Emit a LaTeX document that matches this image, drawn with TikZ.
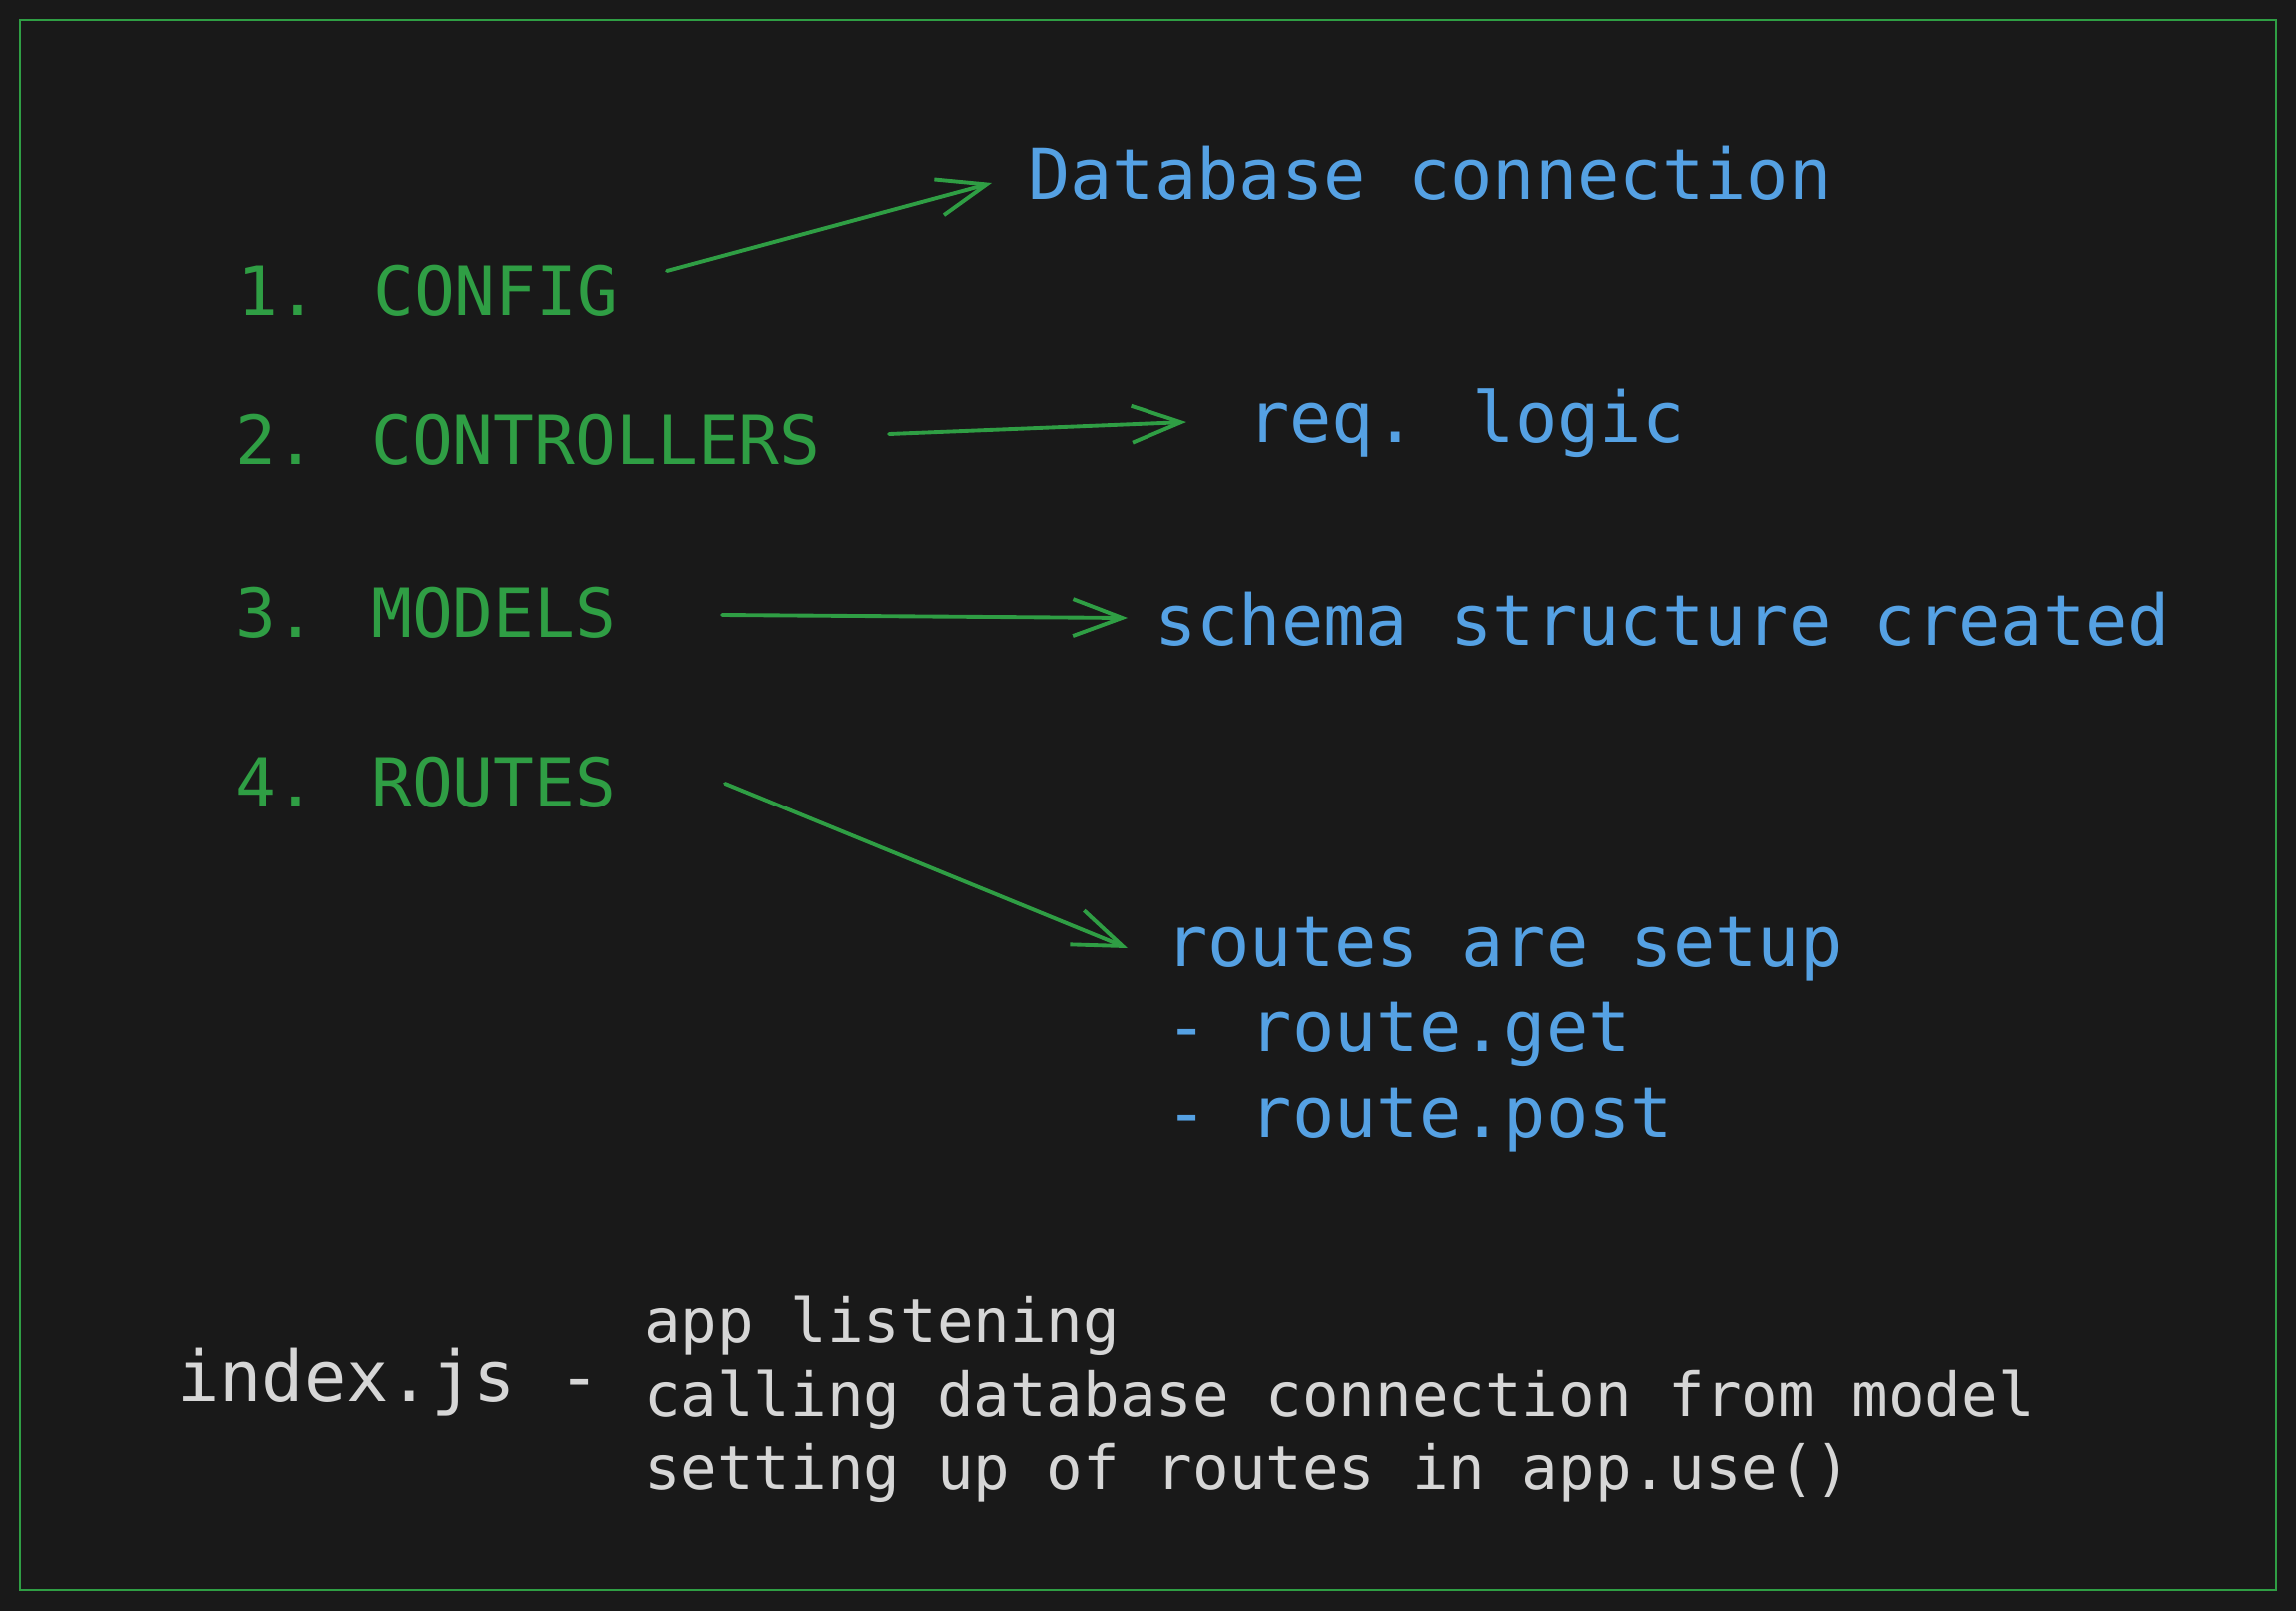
\documentclass[tikz,border=0pt]{standalone}
\usepackage{fontspec}
\newfontfamily\monofam{DejaVu Sans Mono}
\usetikzlibrary{arrows.meta}
\definecolor{bgc}{HTML}{191919}
\definecolor{grn}{HTML}{2F9E44}
\definecolor{blu}{HTML}{55A1E3}
\definecolor{wht}{HTML}{D6D6D6}
\tikzset{
  lbl/.style={anchor=base west, inner sep=0pt, outer sep=0pt, font=\monofam\fontsize{20}{24}\selectfont},
  gtxt/.style={lbl, text=grn, font=\monofam\fontsize{19.3}{23}\selectfont},
  btxt/.style={lbl, text=blu},
  wtxt/.style={lbl, text=wht},
  wsmall/.style={anchor=base west, inner sep=0pt, outer sep=0pt, text=wht, font=\monofam\fontsize{17.3}{21}\selectfont},
  conn/.style={draw=grn, line width=1.1pt, line cap=round, line join=round, -{Straight Barb[length=14pt,width=10.5pt,line width=1.1pt]}},
}
\begin{document}
\begin{tikzpicture}[x=0.01cm,y=-0.01cm]
\fill[bgc] (0,0) rectangle (2297,1612);
\useasboundingbox (0,0) rectangle (2297,1612);
\draw[grn, line width=0.5pt] (20,20) rectangle (2277,1591);
% left items
\node[gtxt] (cfg) at (237,315) {1. CONFIG};
\node[gtxt] (ctl) at (235,464) {2. CONTROLLERS};
\node[gtxt] (mdl) at (235,637) {3. MODELS};
\node[gtxt] (rts) at (235,807) {4. ROUTES};
% right items
\node[btxt] (db) at (1028,199) {Database connection};
\node[btxt] (req) at (1248,442) {req. logic};
\node[btxt] (sch) at (1155,645) {schema structure created};
\node[btxt] (rsu) at (1166,967) {routes are setup};
\node[btxt] (rget) at (1166,1052) {- route.get};
\node[btxt] (rpost) at (1166,1138) {- route.post};
% index.js
\node[wtxt] (idx) at (177,1402) {index.js -};
\node[wsmall] (l1) at (644,1343) {app listening};
\node[wsmall] (l2) at (644,1417) {calling database connection from model};
\node[wsmall] (l3) at (644,1490) {setting up of routes in app.use()};
% connector endpoints
\coordinate (a1s) at (667,271); \coordinate (a1e) at (992,183);
\coordinate (a2s) at (889,434); \coordinate (a2e) at (1187,422);
\coordinate (a3s) at (722,615); \coordinate (a3e) at (1128,618);
\coordinate (a4s) at (725,784); \coordinate (a4e) at (1128,949);
\draw[conn] (a1s) -- (a1e);
\draw[conn] (a2s) -- (a2e);
\draw[conn] (a3s) -- (a3e);
\draw[conn] (a4s) -- (a4e);
\end{tikzpicture}
\end{document}
